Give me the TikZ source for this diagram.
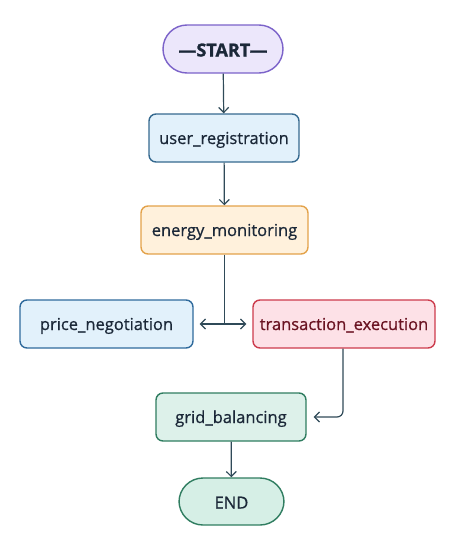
\documentclass[tikz,border=0pt]{standalone}
\usepackage{fontspec}
\setmainfont{Open Sans}[FakeBold=1.2]
\newfontfamily\medfont{Open Sans}[FakeBold=0.7]
\usetikzlibrary{arrows.meta}
\definecolor{conn}{HTML}{2F4A58}
\definecolor{txt}{HTML}{1B2838}
\definecolor{startfill}{HTML}{ECE7FB}
\definecolor{startdraw}{HTML}{7B62C9}
\definecolor{bluefill}{HTML}{E2F1FB}
\definecolor{bluedraw}{HTML}{35698F}
\definecolor{bluedrawb}{HTML}{2F6A9C}
\definecolor{orfill}{HTML}{FFF1DC}
\definecolor{ordraw}{HTML}{E3A24A}
\definecolor{redfill}{HTML}{FDE1E7}
\definecolor{reddraw}{HTML}{CC3B4C}
\definecolor{redtxt}{HTML}{6A1322}
\definecolor{grfill}{HTML}{DDF1EA}
\definecolor{grdraw}{HTML}{2F7D60}
\definecolor{endfill}{HTML}{D6EFE6}
\tikzset{
  box/.style={draw, rounded corners=7pt, line width=1.4pt, minimum height=48pt, inner sep=0pt, text height=14pt, text depth=2pt, font=\medfont\fontsize{16.5}{18}\selectfont, text=txt},
  pill/.style={box, rounded corners=24pt},
  conn/.style={draw=conn, line width=1.2pt, -{Straight Barb[length=5pt,width=10pt,line width=1.2pt]}},
}
\begin{document}
\begin{tikzpicture}[x=1pt,y=-1pt]
\useasboundingbox (0,0) rectangle (461,541);
\node[pill, fill=startfill, draw=startdraw, minimum width=120pt, text height=16pt, text depth=1pt, font=\fontsize{18}{20}\selectfont] (start) at (223,49) {\textbf{—START—}};
\node[box, fill=bluefill, draw=bluedraw, minimum width=150pt] (user) at (224,138) {user\_registration};
\node[box, fill=orfill, draw=ordraw, minimum width=167pt] (energy) at (224.5,230) {energy\_monitoring};
\node[box, fill=bluefill, draw=bluedrawb, minimum width=173pt] (price) at (106.5,324) {price\_negotiation};
\node[box, fill=redfill, draw=reddraw, text=redtxt, minimum width=182pt] (trans) at (344,324) {transaction\_execution};
\node[box, fill=grfill, draw=grdraw, minimum width=150pt] (grid) at (231,417) {grid\_balancing};
\node[pill, fill=endfill, draw=grdraw, minimum width=105pt, minimum height=47pt, text height=15pt, text depth=1pt] (end) at (231.5,501.5) {END};
\coordinate (split) at (energy.south |- price.east);
\coordinate (tdown) at ([xshift=-1pt]trans.south);
\draw[conn] (start) -- (user);
\draw[conn] (user) -- (energy);
\draw[draw=conn, line width=1.2pt] (energy.south) -- (split);
\draw[conn, shorten >=6pt] (split) -- (price.east);
\draw[conn, shorten >=6pt] (split) -- (trans.west);
\draw[conn, rounded corners=6pt, shorten >=7pt] (tdown) |- (grid.east);
\draw[conn] (grid) -- (end);
\end{tikzpicture}
\end{document}
